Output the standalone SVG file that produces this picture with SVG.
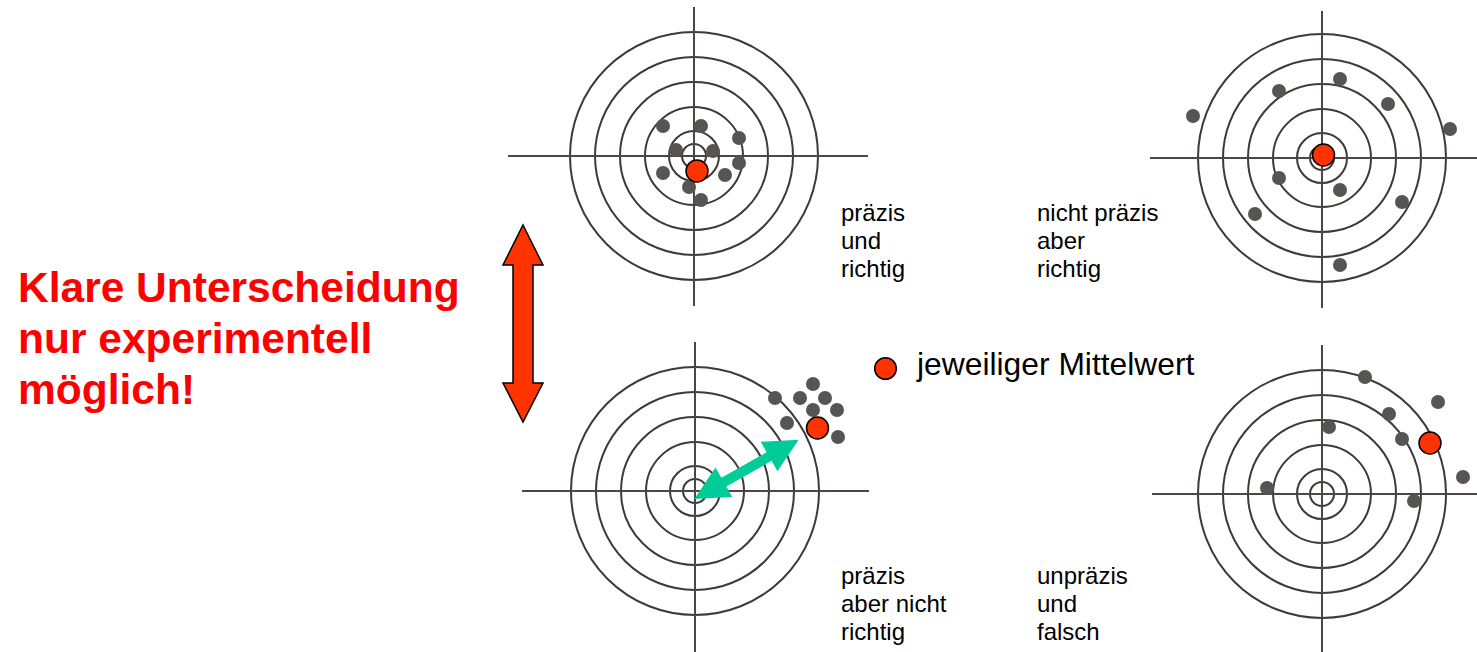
<svg xmlns="http://www.w3.org/2000/svg" width="1477" height="652" viewBox="0 0 1477 652">
<style>
.ring{fill:none;stroke:#3d3a38;stroke-width:2}
.cross{stroke:#4a4746;stroke-width:2}
.dot{fill:#575452}
.mean{fill:#ff3300;stroke:#000;stroke-width:1.5}
.lbl{font-family:"Liberation Sans",Arial,sans-serif;font-size:24px;fill:#000}
.title{font-family:"Liberation Sans",Arial,sans-serif;font-size:42.5px;font-weight:bold;fill:#ff0000}
</style>
<defs>
<g id="rings">
<circle class="ring" r="124"/>
<circle class="ring" r="99"/>
<circle class="ring" r="74"/>
<circle class="ring" r="49"/>
<circle class="ring" r="25"/>
<circle class="ring" r="12"/>
</g>
</defs>
<rect width="1477" height="652" fill="#fff"/>

<g id="title">
<text class="title" x="18" y="302">Klare Unterscheidung</text>
<text class="title" x="18" y="353">nur experimentell</text>
<text class="title" x="18" y="404">möglich!</text>
</g>

<g id="target-tl">
<use href="#rings" x="694" y="156"/>
<line class="cross" x1="508" y1="156" x2="868" y2="156"/>
<line class="cross" x1="694" y1="7" x2="694" y2="306"/>
<circle class="dot" cx="663" cy="126" r="7"/>
<circle class="dot" cx="701" cy="126" r="7"/>
<circle class="dot" cx="739" cy="138" r="7"/>
<circle class="dot" cx="676" cy="150" r="7"/>
<circle class="dot" cx="713" cy="151" r="7"/>
<circle class="dot" cx="739" cy="163" r="7"/>
<circle class="dot" cx="663" cy="173" r="7"/>
<circle class="dot" cx="725" cy="175" r="7"/>
<circle class="dot" cx="689" cy="187" r="7"/>
<circle class="dot" cx="701" cy="200" r="7"/>
<circle class="mean" cx="697" cy="171" r="11"/>
</g>
<g id="label-tl">
<text class="lbl" x="841" y="221">präzis</text>
<text class="lbl" x="841" y="249">und</text>
<text class="lbl" x="841" y="277">richtig</text>
</g>

<g id="target-tr">
<use href="#rings" x="1322" y="158"/>
<line class="cross" x1="1150" y1="158" x2="1477" y2="158"/>
<line class="cross" x1="1322" y1="11" x2="1322" y2="308"/>
<circle class="dot" cx="1193" cy="116" r="7"/>
<circle class="dot" cx="1279" cy="91" r="7"/>
<circle class="dot" cx="1340" cy="79" r="7"/>
<circle class="dot" cx="1388" cy="104" r="7"/>
<circle class="dot" cx="1450" cy="129" r="7"/>
<circle class="dot" cx="1279" cy="178" r="7"/>
<circle class="dot" cx="1340" cy="190" r="7"/>
<circle class="dot" cx="1402" cy="202" r="7"/>
<circle class="dot" cx="1255" cy="214" r="7"/>
<circle class="dot" cx="1340" cy="265" r="7"/>
<circle class="mean" cx="1323.5" cy="155" r="11"/>
</g>
<g id="label-tr">
<text class="lbl" x="1037" y="221">nicht präzis</text>
<text class="lbl" x="1037" y="249">aber</text>
<text class="lbl" x="1037" y="277">richtig</text>
</g>

<g id="legend">
<circle class="mean" cx="885.5" cy="368.5" r="10.8"/>
<text class="lbl" x="917" y="375" style="font-size:31.8px">jeweiliger Mittelwert</text>
</g>

<g id="target-bl">
<use href="#rings" x="695" y="491"/>
<line class="cross" x1="522" y1="491" x2="869" y2="491"/>
<line class="cross" x1="695" y1="342" x2="695" y2="652"/>
<circle class="dot" cx="775" cy="398" r="7"/>
<circle class="dot" cx="813" cy="384" r="7"/>
<circle class="dot" cx="800" cy="398" r="7"/>
<circle class="dot" cx="825" cy="398" r="7"/>
<circle class="dot" cx="813" cy="410" r="7"/>
<circle class="dot" cx="837" cy="410" r="7"/>
<circle class="dot" cx="787" cy="423" r="7"/>
<circle class="dot" cx="838" cy="437" r="7"/>
<circle class="mean" cx="817.5" cy="428" r="11"/>
</g>
<g id="label-bl">
<text class="lbl" x="841" y="584">präzis</text>
<text class="lbl" x="841" y="612">aber nicht</text>
<text class="lbl" x="841" y="640">richtig</text>
</g>

<g id="target-br">
<use href="#rings" x="1322" y="494"/>
<line class="cross" x1="1152" y1="494" x2="1477" y2="494"/>
<line class="cross" x1="1322" y1="345" x2="1322" y2="652"/>
<circle class="dot" cx="1365" cy="377" r="7"/>
<circle class="dot" cx="1438" cy="402" r="7"/>
<circle class="dot" cx="1389" cy="414" r="7"/>
<circle class="dot" cx="1329" cy="427" r="7"/>
<circle class="dot" cx="1402" cy="439" r="7"/>
<circle class="dot" cx="1463" cy="477" r="7"/>
<circle class="dot" cx="1267" cy="488" r="7"/>
<circle class="dot" cx="1414" cy="501" r="7"/>
<circle class="mean" cx="1430" cy="443" r="11"/>
</g>
<g id="label-br">
<text class="lbl" x="1037" y="584">unpräzis</text>
<text class="lbl" x="1037" y="612">und</text>
<text class="lbl" x="1037" y="640">falsch</text>
</g>

<g id="connectors">
<polygon points="523,225 543,265 533,265 533,383 543,383 523,422 503,383 513,383 513,265 503,265" fill="#ff3300" stroke="#000" stroke-width="1.5" stroke-linejoin="miter"/>
<polygon transform="translate(694.3,499) rotate(-29.6)" points="0,0 34,-17 34,-5 86,-5 86,-17 120,0 86,17 86,5 34,5 34,17" fill="#00cc99"/>
</g>
</svg>
